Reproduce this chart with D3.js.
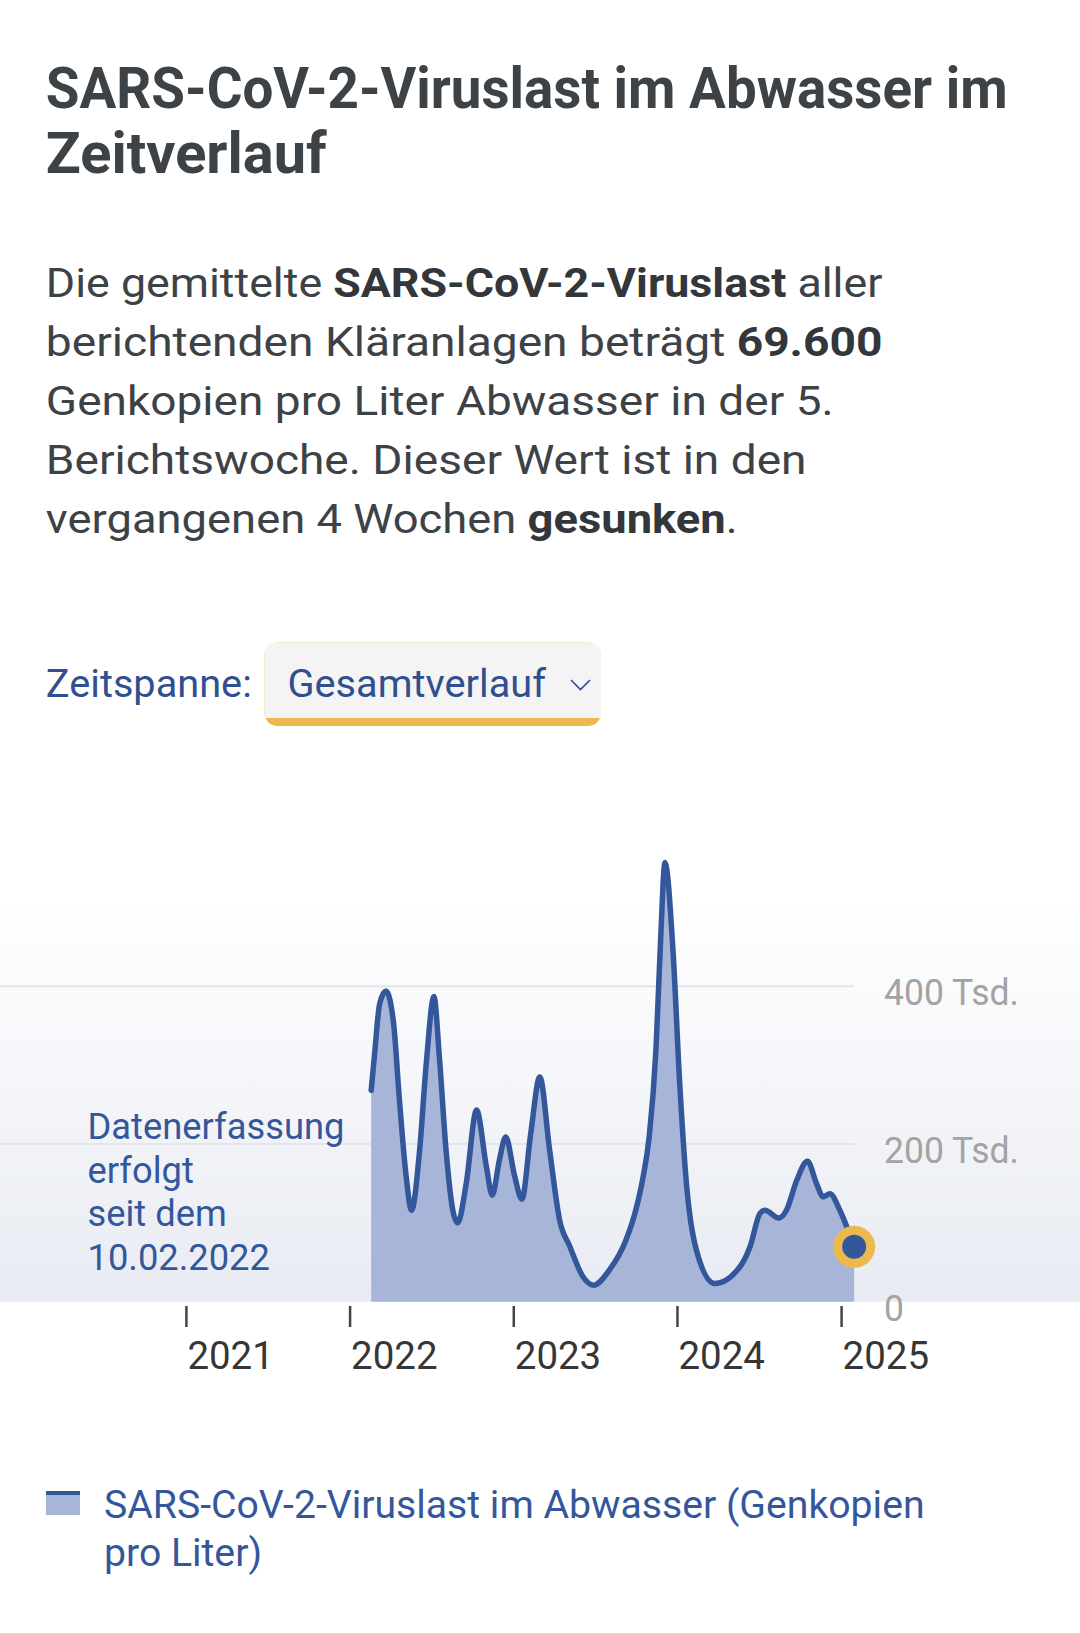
<!DOCTYPE html>
<html><head><meta charset="utf-8">
<script src="https://cdn.jsdelivr.net/npm/d3@7"></script>
<style>
html,body{margin:0;padding:0;background:#fff;}
svg{display:block;}
text{font-family:Roboto,"Noto Sans",sans-serif;}
</style></head><body>
<svg id="c" width="1080" height="1633"></svg>
<script>
// ---------------- DATA ----------------
const dates = ["2022-02-17","2022-02-24","2022-03-08","2022-03-22","2022-04-08","2022-04-21","2022-05-06","2022-05-18",
  "2022-06-05","2022-06-20","2022-07-07","2022-07-19","2022-08-03","2022-08-18","2022-08-29","2022-09-17","2022-10-10",
  "2022-11-01","2022-11-14","2022-11-30","2022-12-14","2023-01-03","2023-01-19","2023-02-08","2023-02-28","2023-03-22",
  "2023-04-13","2023-05-06","2023-06-04","2023-06-28","2023-08-02","2023-09-08","2023-09-30","2023-10-15","2023-10-30",
  "2023-11-14","2023-11-25","2023-12-04","2023-12-22","2024-01-06","2024-01-21","2024-02-12","2024-03-24","2024-05-19",
  "2024-06-11","2024-07-03","2024-07-14","2024-08-14","2024-08-31","2024-09-23","2024-10-17","2024-11-06","2024-11-21",
  "2024-12-06","2024-12-28","2025-01-29"];
const values = [268000,310000,378000,394000,353000,256000,159000,116000,
  192000,303000,387000,311000,192000,116000,100000,150000,243000,
  171000,135000,180000,209000,159000,130000,214000,285000,192000,
  104000,70000,32000,21000,40000,78000,116000,154000,209000,
  319000,467000,557000,446000,277000,150000,66000,23000,44000,
  70000,112000,116000,106000,116000,154000,178000,150000,133000,
  137000,116000,69600];
const yTicks = [0, 200000, 400000];
const yTickLabels = ["0", "200 Tsd.", "400 Tsd."];
const xTickYears = [2021, 2022, 2023, 2024, 2025];
const xTickLabels = ["2021", "2022", "2023", "2024", "2025"];

const titleLines = ["SARS-CoV-2-Viruslast im Abwasser im", "Zeitverlauf"];
const paraLines = [
  [["Die gemittelte ",0],["SARS-CoV-2-Viruslast",1],[" aller",0]],
  [["berichtenden Kläranlagen beträgt ",0],["69.600",1]],
  [["Genkopien pro Liter Abwasser in der 5.",0]],
  [["Berichtswoche. Dieser Wert ist in den",0]],
  [["vergangenen 4 Wochen ",0],["gesunken",1],[".",0]]
];
const noteLines = ["Datenerfassung", "erfolgt", "seit dem", "10.02.2022"];
const legendLines = ["SARS-CoV-2-Viruslast im Abwasser (Genkopien", "pro Liter)"];

// ---------------- DRAW ----------------
const svg = d3.select("#c");
const parse = d3.timeParse("%Y-%m-%d");
const data = dates.map((d,i)=>({date:parse(d), value:values[i]}));

const blue = "#34579b", fillBlue = "#a7b5d8", txt = "#3d4246", yellow = "#ebb94e";

function fit(sel, x, y, w){
  const n = sel.node().getComputedTextLength();
  sel.attr("transform", `translate(${x},${y}) scale(${w/n},1)`);
}

// title
const titleW = [962, 281], titleY = [108, 173];
titleLines.forEach((t,i)=>{
  const s = svg.append("text").text(t).attr("font-size",57).attr("font-weight",700).attr("fill",txt);
  fit(s, 45.8, titleY[i], titleW[i]);
});

// paragraph
const paraW = [837, 837, 788, 761, 692], paraY = [297, 356, 415, 474, 533];
paraLines.forEach((segs,i)=>{
  const s = svg.append("text").attr("font-size",41).attr("fill",txt);
  segs.forEach(([t,b])=> s.append("tspan").text(t).attr("font-weight", b?700:400).attr("fill", b?"#33373b":txt));
  fit(s, 45.8, paraY[i], paraW[i]);
});

// Zeitspanne selector
const zl = svg.append("text").text("Zeitspanne:").attr("font-size",38).attr("fill","#2f4f8f");
fit(zl, 45.8, 697, 206);
const bx=264.5, by=642.6, bw=336.5, bh=83.4, r=13;
svg.append("rect").attr("x",bx).attr("y",by).attr("width",bw).attr("height",bh).attr("rx",r).attr("fill",yellow);
svg.append("path").attr("fill","#f4f4f5")
  .attr("d",`M${bx},${by+bh-8} L${bx},${by+r} Q${bx},${by} ${bx+r},${by} L${bx+bw-r},${by} Q${bx+bw},${by} ${bx+bw},${by+r} L${bx+bw},${by+bh-8} Z`);
const gl = svg.append("text").text("Gesamtverlauf").attr("font-size",38).attr("fill","#2f4f8f");
fit(gl, 287.5, 697, 258.5);
svg.append("polyline").attr("points","571,680 580.5,689.5 590,680").attr("fill","none").attr("stroke","#2f4f8f").attr("stroke-width",1.6);

// scales
const x = d3.scaleTime().domain([new Date(2021,0,1), new Date(2025,0,1)]).range([186.4, 841.6]);
const y = d3.scaleLinear().domain([0,400000]).range([1301.7, 986.3]);
const plotRight = 854;

// background gradient
const defs = svg.append("defs");
const lg = defs.append("linearGradient").attr("id","bg").attr("x1",0).attr("y1",0).attr("x2",0).attr("y2",1);
lg.append("stop").attr("offset","0%").attr("stop-color","#ffffff");
lg.append("stop").attr("offset","100%").attr("stop-color","#e8ebf2");
svg.append("rect").attr("x",0).attr("y",900).attr("width",1080).attr("height",y(0)-900).attr("fill","url(#bg)");

// gridlines
svg.append("g").selectAll("line").data(yTicks.filter(v=>v>0)).join("line")
  .attr("x1",0).attr("x2",plotRight).attr("y1",d=>y(d)).attr("y2",d=>y(d))
  .attr("stroke","#e4e5e8").attr("stroke-width",2);

// area + line
const area = d3.area().x(d=>x(d.date)).y0(y(0)).y1(d=>y(d.value)).curve(d3.curveMonotoneX);
const line = d3.line().x(d=>x(d.date)).y(d=>y(d.value)).curve(d3.curveMonotoneX);
svg.append("path").datum(data).attr("d",area).attr("fill",fillBlue);
svg.append("path").datum(data).attr("d",line).attr("fill","none").attr("stroke",blue).attr("stroke-width",5.5).attr("stroke-linejoin","round").attr("stroke-linecap","round");

// end marker
const last = data[data.length-1];
svg.append("circle").attr("cx",x(last.date)).attr("cy",y(last.value)).attr("r",16.5)
  .attr("fill",blue).attr("stroke",yellow).attr("stroke-width",9);

// y labels
yTicks.forEach((v,i)=>{
  const s = svg.append("text").text(yTickLabels[i]).attr("font-size",37).attr("fill","#a3a3a3");
  s.attr("transform",`translate(884,${y(v)+19}) scale(0.96,1)`);
});

// x ticks + labels
xTickYears.forEach((yr,i)=>{
  const px = x(new Date(yr,0,1));
  svg.append("line").attr("x1",px).attr("x2",px).attr("y1",1306).attr("y2",1327).attr("stroke","#444").attr("stroke-width",2.5);
  const s = svg.append("text").text(xTickLabels[i]).attr("font-size",38).attr("fill","#363636");
  fit(s, px+1, 1369, 86.5);
});

// annotation
const noteY = [1139, 1182.6, 1226.3, 1270];
const n0 = svg.append("text").text(noteLines[0]).attr("font-size",37).attr("fill",blue);
const k = 257 / n0.node().getComputedTextLength();
n0.remove();
noteLines.forEach((t,i)=>{
  svg.append("text").text(t).attr("font-size",37).attr("fill",blue)
    .attr("transform",`translate(87.5,${noteY[i]}) scale(${k},1)`);
});

// legend
svg.append("rect").attr("x",46).attr("y",1491).attr("width",34).attr("height",24).attr("fill",fillBlue);
svg.append("rect").attr("x",46).attr("y",1491).attr("width",34).attr("height",4).attr("fill",blue);
const l0 = svg.append("text").text(legendLines[0]).attr("font-size",38).attr("fill",blue);
const lk = 821 / l0.node().getComputedTextLength();
l0.attr("transform",`translate(104,1518) scale(${lk},1)`);
svg.append("text").text(legendLines[1]).attr("font-size",38).attr("fill",blue)
  .attr("transform",`translate(104,1566) scale(${lk},1)`);
</script>
</body></html>
